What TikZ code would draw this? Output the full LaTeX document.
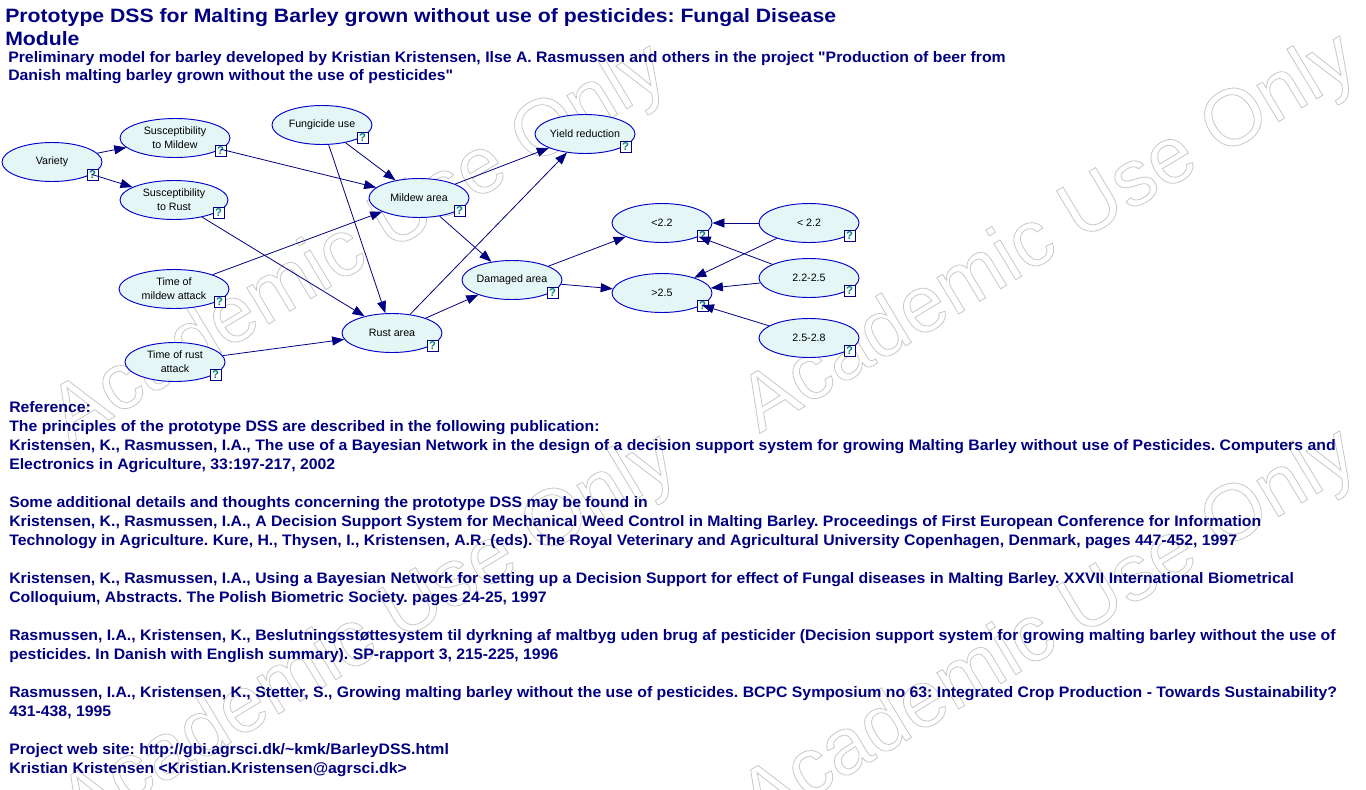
\documentclass[tikz,border=0pt]{standalone}
\usepackage{fontspec}
\setmainfont{Liberation Sans}
\usetikzlibrary{shapes.geometric,arrows.meta}
\definecolor{navy}{RGB}{0,0,128}
\definecolor{nfill}{RGB}{228,246,246}
\definecolor{nborder}{RGB}{0,0,200}
\definecolor{qteal}{RGB}{0,128,128}
\definecolor{wmgray}{RGB}{200,200,200}
\newcommand\bnnode[5]{%
  \node[bn, minimum width=#4*0.75pt] (#1) at (#2,#3) {#5};
  \node[qbox] (#1q) at (#2+#4/2-9.5,#3+13) {?};}
\newcommand\wmark[3]{%
  \node[wm] (#1) at (#2,#3) {\special{pdf:literal direct 1 Tr 0.6 w 0.784 0.784 0.784 RG}Academic Use Only\special{pdf:literal direct 0 Tr}};}
\frenchspacing
\begin{document}
\begin{tikzpicture}[x=0.75pt,y=-0.75pt,
  bn/.style={ellipse, draw=nborder, fill=nfill, line width=0.7pt, minimum height=29.25pt,
    inner sep=0pt, align=center, font=\fontsize{8}{10.5}\selectfont, text=black},
  qbox/.style={draw=navy, fill=white, line width=0.6pt, minimum size=8.25pt, inner sep=0pt,
    font=\bfseries\fontsize{8.5}{8.5}\selectfont, text=qteal},
  edge/.style={draw=navy, line width=0.6pt, -{Triangle[length=9pt,width=6.75pt]}},
  body/.style={anchor=base west, inner sep=0pt, text=navy, xscale=1.04, font=\bfseries\fontsize{11.4}{14}\selectfont},
  ttl/.style={anchor=base west, inner sep=0pt, text=navy, xscale=1.097, font=\bfseries\fontsize{14.5}{16}\selectfont},
  wm/.style={inner sep=0pt, rotate=31, text=wmgray, font=\fontsize{60}{60}\selectfont}
]
\useasboundingbox (0,0) rectangle (1366,789);
\fill[white] (0,0) rectangle (1366,789);
% watermarks
\wmark{wm1}{360}{245}
\wmark{wm2}{1050}{235}
\wmark{wm3}{370}{635}
\wmark{wm4}{1050}{630}
% title
\node[ttl] (t1) at (5,22) {Prototype DSS for Malting Barley grown without use of pesticides: Fungal Disease};
\node[ttl] (t2) at (5,45) {Module};
\node[body] (s1) at (8,62) {Preliminary model for barley developed by Kristian Kristensen, Ilse A. Rasmussen and others in the project \textquotedbl Production of beer from};
\node[body] (s2) at (8,80) {Danish malting barley grown without the use of pesticides\textquotedbl};
% network
\bnnode{var}{52}{162}{100}{Variety}
\bnnode{sm}{175}{138}{110}{Susceptibility\\to Mildew}
\bnnode{sr}{174}{200}{108}{Susceptibility\\to Rust}
\bnnode{fu}{322}{125}{100}{Fungicide use}
\bnnode{ma}{419}{198}{100}{Mildew area}
\bnnode{tm}{174}{289}{110}{Time of\\mildew attack}
\bnnode{tr}{175}{362}{100}{Time of rust\\attack}
\bnnode{ra}{392}{333}{100}{Rust area}
\bnnode{yr}{585}{134}{100}{Yield reduction}
\bnnode{da}{512}{280}{100}{Damaged area}
\bnnode{lt}{662}{223}{100}{<2.2}
\bnnode{gt}{662}{293}{100}{>2.5}
\bnnode{ra1}{809}{223}{100}{< 2.2}
\bnnode{ra2}{809}{278}{100}{2.2-2.5}
\bnnode{ra3}{809}{338}{100}{2.5-2.8}
\draw[edge] (var) -- (sm);
\draw[edge] (var) -- (sr);
\draw[edge] (sm) -- (ma);
\draw[edge] (fu) -- (ma);
\draw[edge] (fu) -- (ra);
\draw[edge] (sr) -- (ra);
\draw[edge] (tm) -- (ma);
\draw[edge] (tr) -- (ra);
\draw[edge] (ma) -- (yr);
\draw[edge] (ra) -- (yr);
\draw[edge] (ma) -- (da);
\draw[edge] (ra) -- (da);
\draw[edge] (da) -- (lt);
\draw[edge] (da) -- (gt);
\draw[edge] (ra1) -- (lt);
\draw[edge] (ra1) -- (gt);
\draw[edge] (ra2) -- (lt);
\draw[edge] (ra2) -- (gt);
\draw[edge] (ra3) -- (gt);
% references
\node[body] (b1) at (9,412) {Reference:};
\node[body] (b2) at (9,431) {The principles of the prototype DSS are described in the following publication:};
\node[body] (b3) at (9,450) {Kristensen, K., Rasmussen, I.A., The use of a Bayesian Network in the design of a decision support system for growing Malting Barley without use of Pesticides. Computers and};
\node[body] (b4) at (9,469) {Electronics in Agriculture, 33:197-217, 2002};
\node[body] (b5) at (9,507) {Some additional details and thoughts concerning the prototype DSS may be found in};
\node[body] (b6) at (9,526) {Kristensen, K., Rasmussen, I.A., A Decision Support System for Mechanical Weed Control in Malting Barley. Proceedings of First European Conference for Information};
\node[body] (b7) at (9,545) {Technology in Agriculture. Kure, H., Thysen, I., Kristensen, A.R. (eds). The Royal Veterinary and Agricultural University Copenhagen, Denmark, pages 447-452, 1997};
\node[body] (b8) at (9,583) {Kristensen, K., Rasmussen, I.A., Using a Bayesian Network for setting up a Decision Support for effect of Fungal diseases in Malting Barley. XXVII International Biometrical};
\node[body] (b9) at (9,602) {Colloquium, Abstracts. The Polish Biometric Society. pages 24-25, 1997};
\node[body] (b10) at (9,640) {Rasmussen, I.A., Kristensen, K., Beslutningsstøttesystem til dyrkning af maltbyg uden brug af pesticider (Decision support system for growing malting barley without the use of};
\node[body] (b11) at (9,659) {pesticides. In Danish with English summary). SP-rapport 3, 215-225, 1996};
\node[body] (b12) at (9,697) {Rasmussen, I.A., Kristensen, K., Stetter, S., Growing malting barley without the use of pesticides. BCPC Symposium no 63: Integrated Crop Production - Towards Sustainability?};
\node[body] (b13) at (9,716) {431-438, 1995};
\node[body] (b14) at (9,754) {Project web site: http://gbi.agrsci.dk/\textasciitilde kmk/BarleyDSS.html};
\node[body] (b15) at (9,773) {Kristian Kristensen <Kristian.Kristensen@agrsci.dk>};
\end{tikzpicture}
\end{document}
